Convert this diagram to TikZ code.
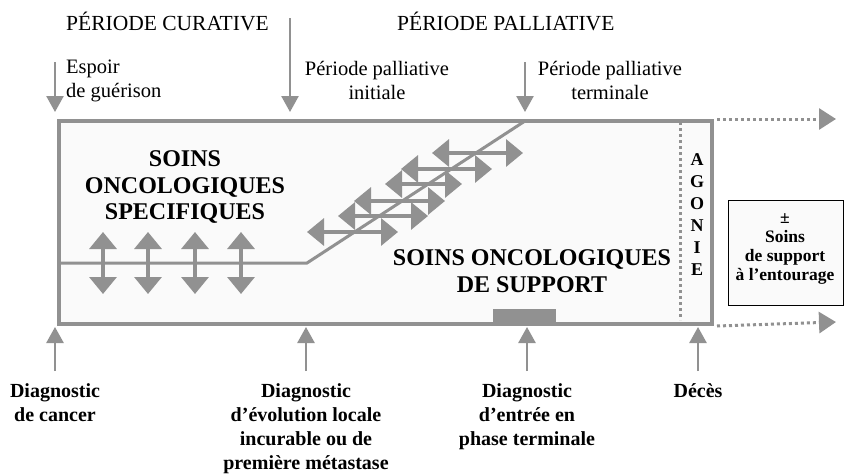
\documentclass[tikz,border=0pt]{standalone}
\usepackage{fontspec}
\setmainfont{Liberation Serif}
\usetikzlibrary{arrows.meta,positioning,calc}
\definecolor{framebg}{RGB}{250,250,250}
\definecolor{linegray}{RGB}{145,145,145}

\begin{document}
\begin{tikzpicture}[x=1pt,y=-1pt,
    frame/.style={draw=linegray,line width=4pt,fill=framebg},
    timearrow/.style={draw=linegray,line width=2.5pt,-{Triangle[length=16pt,width=17pt]}},
    dblarrow/.style={draw=linegray,line width=3.5pt,{Triangle[length=17pt,width=27pt]}-{Triangle[length=17pt,width=27pt]}},
    dotarrow/.style={draw=linegray,line width=3pt,dash pattern=on 3pt off 3pt,-{Triangle[length=17pt,width=21pt]}},
    header/.style={font=\fontsize{21.5}{24}\selectfont,inner sep=0pt},
    period/.style={font=\fontsize{20.5}{24}\selectfont,align=center,inner sep=0pt},
    event/.style={font=\fontsize{20}{24.3}\selectfont\bfseries,align=center,inner sep=0pt,anchor=north},
    soins/.style={font=\fontsize{24}{26.5}\selectfont\bfseries,align=center,inner sep=0pt},
    agonie/.style={font=\fontsize{18}{20}\selectfont\bfseries,inner sep=0pt}]
  \useasboundingbox (0,0) rectangle (844,474);

  % main frame
  \node[frame,minimum width=653pt,minimum height=203pt,anchor=north west] (box) at (57,119) {};
  \draw[linegray,line width=3pt,dash pattern=on 3pt off 3pt] (680,122) -- (680,320);
  \fill[linegray] (493,309) rectangle (556,324);
  \draw[dotarrow] ([xshift=3pt]box.north east) -- (836,119);
  \draw[dotarrow] ([xshift=3pt]box.south east) -- (836,322);

  % curative / palliative line
  \coordinate (lstart) at (57,263);
  \coordinate (lbend) at (307,263);
  \coordinate (lend) at (525,121);
  \draw[linegray,line width=3pt] (lstart) -- (lbend) -- (lend);

  \foreach \x in {103,148,195,241}
    \draw[dblarrow] (\x,232) -- (\x,294);
  \foreach \xa/\xb/\y in {307/398/232, 338/428/216, 354/445/201, 385/462/184, 401/492/169, 432/523/153}
    \draw[dblarrow] (\xa,\y) -- (\xb,\y);

  \node[soins] (specif) at (185,187) {SOINS\\ONCOLOGIQUES\\SPECIFIQUES};
  \node[soins] (support) at (532,271) {SOINS ONCOLOGIQUES\\DE SUPPORT};
  \foreach \l [count=\i] in {A,G,O,N,I,E}
    \node[agonie] (ag\i) at (697,160+22*\i-22) {\l};

  % right box
  \node[draw=black,line width=0.8pt,fill=framebg,minimum width=115pt,minimum height=105pt,anchor=north west] (entourage) at (728,200) {};
  \node[font=\fontsize{17.5}{19}\selectfont\bfseries,align=center,inner sep=0pt] (entext) at (785,249) {±\\Soins\\de support\\à l’entourage};

  % top labels
  \node[header,anchor=west] (curative) at (66,21) {PÉRIODE CURATIVE};
  \node[header,anchor=west] (palliative) at (397,21) {PÉRIODE PALLIATIVE};
  \node[period,align=left,anchor=west] (espoir) at (66,81) {Espoir\\de guérison};
  \node[period] (initiale) at (377,80) {Période palliative\\initiale};
  \node[period] (terminale) at (610,80) {Période palliative\\terminale};
  \coordinate (t1) at (55,62);
  \coordinate (t2) at (290,18);
  \coordinate (t3) at (525,62);
  \draw[timearrow] (t1) -- (t1 |- 0,112);
  \draw[timearrow] (t2) -- (t2 |- 0,112);
  \draw[timearrow] (t3) -- (t3 |- 0,112);

  % bottom labels
  \node[event] (cancer) at (55,383) {Diagnostic\\de cancer};
  \node[event] (metastase) at (306,383) {Diagnostic\\d’évolution locale\\incurable ou de\\première métastase};
  \node[event] (terminal) at (527,383) {Diagnostic\\d’entrée en\\phase terminale};
  \node[event] (deces) at (698,383) {Décès};
  \foreach \n in {cancer,metastase,terminal,deces}
    \draw[timearrow] ([yshift=12pt]\n.north) -- ([yshift=56pt]\n.north);
\end{tikzpicture}
\end{document}
